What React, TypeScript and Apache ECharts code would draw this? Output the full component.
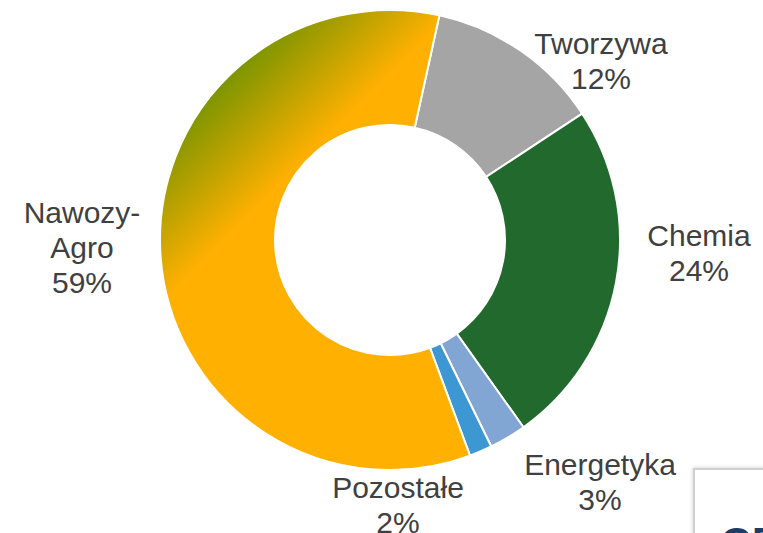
import React, { useEffect, useRef } from "react";
import * as echarts from "echarts";

const categories = ["Tworzywa", "Chemia", "Energetyka", "Pozostałe", "Nawozy-\nAgro"];
const shares = [12.3, 24.4, 2.6, 1.6, 59.1];
const colors = ["#A5A5A5", "#21692C", "#82A6D3", "#3C97D2", "gradient"];
// label anchor centres (layout only)
const labelAnchors = [
  [601, 61],
  [699, 253],
  [600, 482],
  [398, 505],
  [82, 247],
];

export default function App() {
  const ref = useRef<HTMLDivElement>(null);
  useEffect(() => {
    if (!ref.current) return;
    const chart = echarts.init(ref.current, null, { renderer: "svg" });
    const nawozyGradient = new echarts.graphic.LinearGradient(
      150, 150, 232, 232,
      [
        { offset: 0, color: "#789400" },
        { offset: 1, color: "#FFB000" },
      ],
      true
    );
    chart.setOption({
      animation: false,
      backgroundColor: "#ffffff",
      graphic: [
        {
          type: "rect",
          shape: { x: 694, y: 469, width: 120, height: 120 },
          style: { fill: "#ffffff", stroke: "#D0D0D0", lineWidth: 2, shadowBlur: 4, shadowColor: "rgba(0,0,0,0.2)" },
          z: 10,
        },
        {
          type: "text",
          x: 721,
          y: 522,
          style: {
            text: "GD",
            fill: "#1C3B66",
            font: "bold 40px 'Liberation Sans', sans-serif",
          },
          z: 11,
        },
      ],
      series: [
        {
          type: "pie",
          center: [390, 240],
          radius: [115, 230],
          startAngle: 77.6,
          clockwise: true,
          avoidLabelOverlap: false,
          itemStyle: { borderColor: "#ffffff", borderWidth: 2 },
          label: {
            show: true,
            position: "outside",
            formatter: (p: any) => `${p.name}\n${Math.round(p.value)}%`,
            fontFamily: "'Liberation Sans', sans-serif",
            fontSize: 30,
            lineHeight: 35,
            color: "#404040",
            align: "center",
          },
          labelLine: { show: false },
          labelLayout: (params: any) => {
            const a = labelAnchors[params.dataIndex];
            return { x: a[0], y: a[1], align: "center", verticalAlign: "middle" };
          },
          emphasis: { disabled: true },
          data: categories.map((name, i) => ({
            name,
            value: shares[i],
            itemStyle: { color: colors[i] === "gradient" ? nawozyGradient : colors[i] },
          })),
        },
      ],
    });
    return () => chart.dispose();
  }, []);
  return (
    <div
      ref={ref}
      style={{ position: "absolute", left: 0, top: 0, width: 763, height: 533 }}
    />
  );
}
